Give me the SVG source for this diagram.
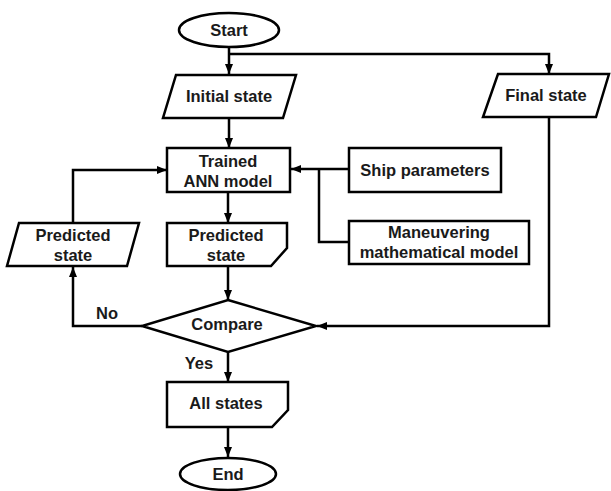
<svg xmlns="http://www.w3.org/2000/svg" width="611" height="491" viewBox="0 0 611 491">
<style>
.s{fill:#fff;stroke:#000;stroke-width:2.5}
.c{fill:none;stroke:#000;stroke-width:2.5}
text{font-family:"Liberation Sans",Arial,sans-serif;font-weight:bold;font-size:16.5px;fill:#1a1a1a;text-anchor:middle}
</style>
<defs>
<marker id="a" markerUnits="userSpaceOnUse" markerWidth="10" markerHeight="10" viewBox="0 0 10 10" refX="10" refY="5" orient="auto">
<path d="M0,1 L10,5 L0,9 Z" fill="#000"/>
</marker>
</defs>
<g id="connectors">
<path class="c" d="M229,47 V74" marker-end="url(#a)"/>
<path class="c" d="M229,54 H549 V74" marker-end="url(#a)"/>
<path class="c" d="M229,118 V148" marker-end="url(#a)"/>
<path class="c" d="M349,169 H291" marker-end="url(#a)"/>
<path class="c" d="M319,169 V242 H349"/>
<path class="c" d="M228,192 V223" marker-end="url(#a)"/>
<path class="c" d="M228,266 V300" marker-end="url(#a)"/>
<path class="c" d="M549,117 V326 H317" marker-end="url(#a)"/>
<path class="c" d="M142,326 H73 V267" marker-end="url(#a)"/>
<path class="c" d="M73,223 V170 H167" marker-end="url(#a)"/>
<path class="c" d="M228,352 V382" marker-end="url(#a)"/>
<path class="c" d="M228,427 V457" marker-end="url(#a)"/>
</g>
<g id="start"><ellipse class="s" cx="229" cy="30" rx="50" ry="17"/><text x="229" y="36">Start</text></g>
<g id="initial"><polygon class="s" points="176,75 296,75 283,118 163,118"/><text x="229" y="102">Initial state</text></g>
<g id="final"><polygon class="s" points="498,74 609,74 596,117 483,117"/><text x="546" y="101">Final state</text></g>
<g id="trained"><rect class="s" x="167" y="148" width="123" height="44"/><text x="228" y="167">Trained</text><text x="228" y="187">ANN model</text></g>
<g id="ship"><rect class="s" x="349" y="148" width="152" height="44"/><text x="425" y="176">Ship parameters</text></g>
<g id="maneuver"><rect class="s" x="349" y="221" width="180" height="43"/><text x="439" y="238">Maneuvering</text><text x="439" y="258">mathematical model</text></g>
<g id="pred-left"><polygon class="s" points="19,223 139,223 127,266 7,266"/><text x="73" y="241">Predicted</text><text x="73" y="261">state</text></g>
<g id="pred-mid"><polygon class="s" points="167,223 287,223 287,248 271,266 167,266"/><text x="226" y="241">Predicted</text><text x="226" y="261">state</text></g>
<g id="compare"><polygon class="s" points="228,300 316,326 228,352 142,326"/><text x="227" y="330">Compare</text></g>
<g id="no"><text x="107" y="319">No</text></g>
<g id="yes"><text x="199" y="369">Yes</text></g>
<g id="allstates"><polygon class="s" points="167,382 288,382 288,410 272,427 167,427"/><text x="226" y="409">All states</text></g>
<g id="end"><ellipse class="s" cx="228" cy="474" rx="48" ry="16"/><text x="228" y="480">End</text></g>
</svg>
